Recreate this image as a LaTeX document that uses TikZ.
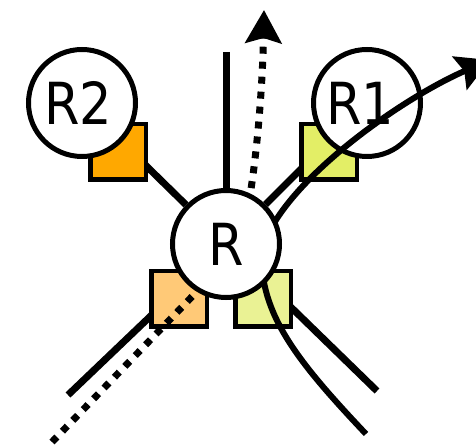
\documentclass[tikz,border=0pt]{standalone}
\usepackage{fontspec}
\setmainfont{DejaVu Sans}[FakeStretch=0.88]
\usepackage{xcolor}
\usetikzlibrary{arrows.meta,positioning,backgrounds,calc}
\definecolor{port-dark}{RGB}{255,168,0}
\definecolor{port-lime}{RGB}{227,238,102}
\definecolor{port-peach}{RGB}{255,201,119}
\definecolor{port-pale}{RGB}{234,242,148}
\pgfdeclarelayer{links}
\pgfdeclarelayer{flows}
\pgfdeclarelayer{front}
\pgfsetlayers{links,main,flows,front}
\tikzstyle{router}=[draw,circle,fill=white,line width=5pt,minimum size=107pt,inner sep=0pt,font=\fontsize{58}{60}\selectfont]
\tikzstyle{port}=[draw,rectangle,line width=4.5pt,minimum size=55.5pt,inner sep=0pt]
\tikzstyle{link}=[draw,line width=7pt]
\tikzstyle{flow}=[draw,line width=6pt,-{Stealth[length=33pt,width=36pt,inset=5pt]}]
\tikzstyle{probe}=[flow,line width=7pt,dash pattern=on 7pt off 8pt]

\begin{document}
\begin{tikzpicture}[x=1pt,y=1pt]
  \useasboundingbox (0,0) rectangle (476,444);

  % Central router
  \begin{pgfonlayer}{front}
    \node [router] (r) at (226,200) {R};
  \end{pgfonlayer}

  % Ports
  \node [port,fill=port-dark] (p2) at (118,292) {};
  \node [port,fill=port-lime] (p1) at (329,292) {};
  \node [port,fill=port-peach] (pa) at (179,145) {};
  \node [port,fill=port-pale] (pb) at (263,145) {};

  % Neighbours
  \node [router] (r2) at (82,341) {R2\kern8pt};
  \node [router] (r1) at (367,341) {R1\kern14pt};

  % Links
  \coordinate (up) at (226,392);
  \coordinate (sw) at (68,49);
  \coordinate (se) at (377,53);
  \begin{pgfonlayer}{links}
    \draw[link] (r) -- (r2);
    \draw[link] (r) -- (r1);
    \draw[link] (up) -- (r);
    \draw[link] (r) -- (sw);
    \draw[link] (r) -- (se);
  \end{pgfonlayer}

  % Traffic
  \coordinate (c-start) at (366,10);
  \coordinate (c-bend) at (262,194);
  \coordinate (c-end) at (490,384);
  \coordinate (d-start) at (52,2);
  \coordinate (d-bend) at (235,192);
  \coordinate (d-end) at (264,434);
  \begin{pgfonlayer}{flows}
    \draw[flow] (c-start) .. controls (300,80) and (258,130) .. (c-bend)
      .. controls (280,260) and (400,345) .. (c-end);
    \draw[probe] (d-start) -- (d-bend) .. controls (250,215) and (262,330) .. (d-end);
  \end{pgfonlayer}
\end{tikzpicture}
\end{document}
